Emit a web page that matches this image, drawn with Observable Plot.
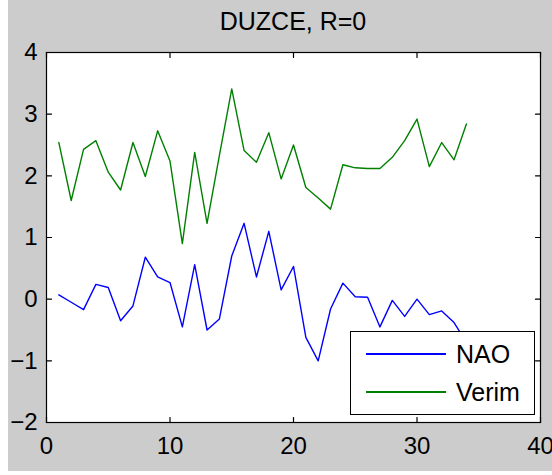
<!DOCTYPE html>
<html>
<head>
<meta charset="utf-8">
<script src="https://cdn.jsdelivr.net/npm/d3@7"></script>
<script src="https://cdn.jsdelivr.net/npm/@observablehq/plot@0.6"></script>
<style>
  html, body { margin: 0; padding: 0; background: #ffffff; }
  #fig { position: relative; width: 552px; height: 475px; overflow: hidden;
         font-family: "Liberation Sans", Arial, sans-serif; }
  #panel { position: absolute; left: 8px; top: 0; width: 544px; height: 471px; background: #cccccc; }
  #title { position: absolute; left: 46px; width: 494px; top: 9px; text-align: center;
           font-size: 25px; line-height: 1; color: #000; }
  #chart { position: absolute; left: 0; top: 36px; }
  #legend { position: absolute; left: 350px; top: 331px; width: 183px; height: 82px;
            background: #fff; border: 1px solid #000; }
  .item { position: absolute; left: 0; width: 183px; height: 30px; }
  .swatch { position: absolute; left: 15px; width: 80px; top: 14px; height: 0; border-top: 2px solid; }
  .lab { position: absolute; left: 105px; top: 1px; font-size: 25px; line-height: 28px; color: #000; }
</style>
</head>
<body>
<div id="fig">
  <div id="panel"></div>
  <div id="title"></div>
  <div id="chart"></div>
  <div id="legend"></div>
</div>
<script>
// Time index (1..34) and the two series
const index = d3.range(1, 35);
const nao = [0.07, -0.05, -0.17, 0.24, 0.19, -0.35, -0.11, 0.68, 0.36, 0.27,
             -0.45, 0.56, -0.50, -0.32, 0.70, 1.23, 0.36, 1.10, 0.15, 0.53,
             -0.62, -1.00, -0.16, 0.26, 0.04, 0.03, -0.45, -0.02, -0.28, 0.00,
             -0.25, -0.19, -0.38, -0.70];
const verim = [2.54, 1.60, 2.43, 2.57, 2.06, 1.77, 2.54, 1.99, 2.73, 2.24,
               0.90, 2.38, 1.23, 2.33, 3.41, 2.41, 2.22, 2.70, 1.95, 2.50,
               1.81, 1.64, 1.46, 2.18, 2.13, 2.12, 2.12, 2.30, 2.57, 2.92,
               2.15, 2.54, 2.26, 2.84];
const xTicks = [0, 10, 20, 30, 40];
const yTicks = [-2, -1, 0, 1, 2, 3, 4];
const seriesNames = ["NAO", "Verim"];
const seriesColors = ["#0000ff", "#008000"];
const titleText = "DUZCE, R=0";

const rows = [
  ...index.map((t, i) => ({t, v: nao[i], s: seriesNames[0]})),
  ...index.map((t, i) => ({t, v: verim[i], s: seriesNames[1]}))
];

document.getElementById("title").textContent = titleText;

const tickFont = {fontSize: 24, fontFamily: "Liberation Sans, Arial, sans-serif"};
const fmt = d3.format("d");

// Short inward tick: a straight segment drawn from the anchor point
const tickShape = {draw(context, l) { context.moveTo(0, 0); context.lineTo(0, -l); }};
const tickOpts = {length: 5, anchor: "start", shape: tickShape, stroke: "#000", strokeWidth: 1.2};
const [x0, x1] = [xTicks[0], xTicks[xTicks.length - 1]];
const [y0, y1] = [yTicks[0], yTicks[yTicks.length - 1]];

const chart = Plot.plot({
  width: 552,
  height: 439,
  marginLeft: 46,
  marginRight: 12,
  marginTop: 16,
  marginBottom: 53,
  style: {background: "transparent", color: "#000", overflow: "visible"},
  x: {domain: [x0, x1]},
  y: {domain: [y0, y1]},
  color: {domain: seriesNames, range: seriesColors},
  marks: [
    Plot.frame({fill: "#fff", stroke: "none"}),
    Plot.line(rows, {x: "t", y: "v", z: "s", stroke: "s", strokeWidth: 1.4}),
    // tick marks pointing into the plot on all four sides
    Plot.vector(xTicks, {x: d => d, y: y0, rotate: 0, ...tickOpts}),
    Plot.vector(xTicks, {x: d => d, y: y1, rotate: 180, ...tickOpts}),
    Plot.vector(yTicks, {y: d => d, x: x0, rotate: 90, ...tickOpts}),
    Plot.vector(yTicks, {y: d => d, x: x1, rotate: -90, ...tickOpts}),
    Plot.axisX({anchor: "bottom", ticks: xTicks, tickSize: 0, tickPadding: 14, tickFormat: fmt, label: null, ...tickFont}),
    Plot.axisY({anchor: "left", ticks: yTicks, tickSize: 0, tickPadding: 9, tickFormat: fmt, label: null, ...tickFont}),
    Plot.frame({stroke: "#000", strokeWidth: 1.2})
  ]
});
document.getElementById("chart").append(chart);

// Legend box
const legend = document.getElementById("legend");
seriesNames.forEach((name, i) => {
  const item = document.createElement("div");
  item.className = "item";
  item.style.top = (7 + i * 38) + "px";
  const sw = document.createElement("div");
  sw.className = "swatch";
  sw.style.borderTopColor = seriesColors[i];
  const lab = document.createElement("div");
  lab.className = "lab";
  lab.textContent = name;
  item.append(sw, lab);
  legend.append(item);
});
</script>
</body>
</html>
